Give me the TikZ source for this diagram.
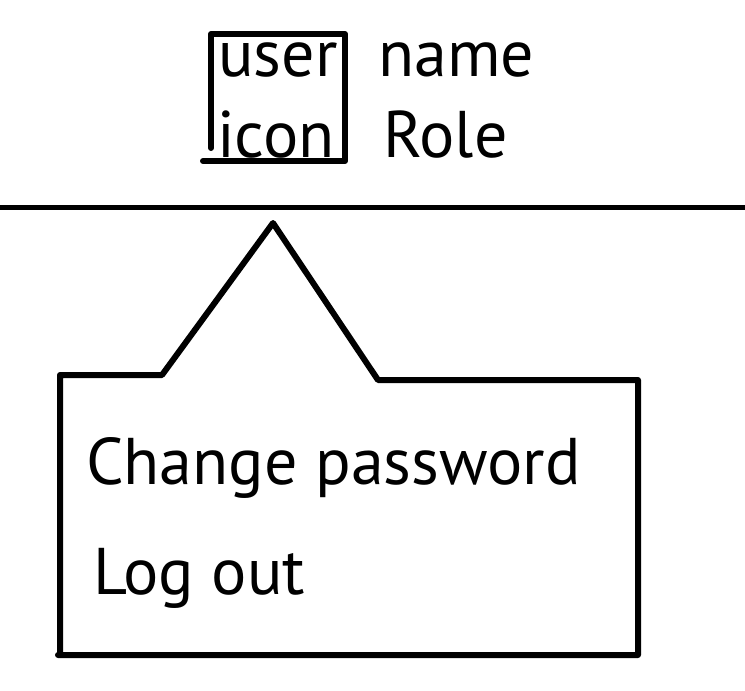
\documentclass[tikz,border=0pt]{standalone}
\usepackage{fontspec}
\setmainfont{PT Sans}
\begin{document}
\begin{tikzpicture}[x=1pt,y=-1pt,
  lbl/.style={inner sep=0pt,anchor=base west,font=\fontsize{66}{66}\selectfont},
  menu/.style={inner sep=0pt,anchor=base west,font=\fontsize{66}{66}\selectfont},
  ink/.style={line width=6pt,line join=round,line cap=round}]
\useasboundingbox (0,0) rectangle (745,691);
% header divider
\draw[line width=5pt] (0,207) -- (745,207);
% user icon box
\draw[ink] (211,148) -- (211,34) -- (345,34) -- (345,161) -- (203,161);
\node[lbl] (user) at (218,76) {user};
\node[lbl] (icon) at (217,157) {icon};
\node[lbl] (name) at (378,76) {name};
\node[lbl] (role) at (383,157) {Role};
% dropdown callout
\draw[ink] (60,655) -- (60,375) -- (162,375) -- (273,223) -- (378,380) -- (638,380) -- (638,655) -- (58,655);
\node[menu] (chpw) at (86,484) {Change password};
\node[menu] (logout) at (93,594) {Log out};
\end{tikzpicture}
\end{document}
